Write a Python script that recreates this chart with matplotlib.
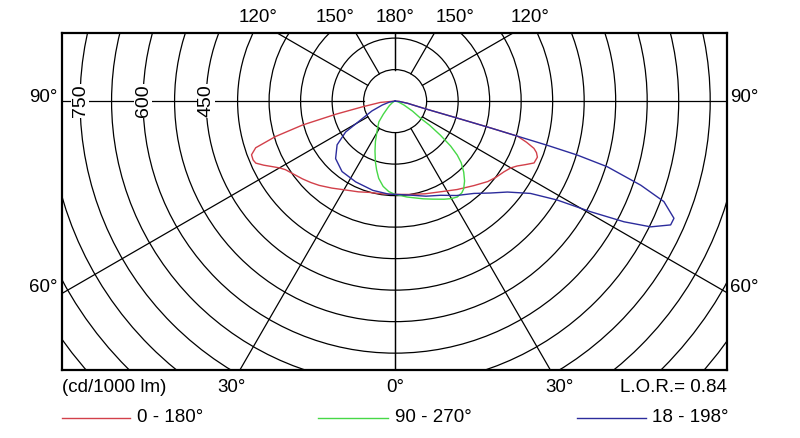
import numpy as np
import matplotlib
matplotlib.use("Agg")
import matplotlib.pyplot as plt
from matplotlib.patches import Circle
from matplotlib.lines import Line2D

plt.rcParams['font.family'] = ['Liberation Sans', 'DejaVu Sans']

# luminous intensity (cd/1000 lm) vs gamma angle, each plane split in a left and right half
red_left_g = [90, 85, 80, 77.5, 75.5, 73.5, 71.5, 69.5, 67.5, 66, 64, 62, 60, 58, 54, 50, 46, 42, 36, 29, 22, 16, 8, 0]
red_left_r = [0, 35, 80, 145, 228, 297, 350, 365, 366, 363, 348, 332, 318, 308, 297, 288, 279, 270, 256, 242, 233, 226, 223, 222]
red_right_g = [0, 9, 18, 27, 35, 43, 49, 53, 57, 60, 62, 64, 66, 68.5, 70, 71.2, 72.6, 74.0, 74.3, 74.7, 75.8, 80, 85, 90]
red_right_r = [222, 225, 232, 242, 257, 275, 292, 301, 309, 318, 329, 345, 362, 364, 358, 349, 328, 303, 236, 154, 71, 30, 10, 0]

green_left_g = [90, 70, 60, 52, 47, 42, 38, 32, 26, 22, 18, 15, 12, 8, 4, 0]
green_left_r = [0, 3, 8, 17, 25, 42, 63, 80, 107, 128, 152, 170, 188, 205, 216, 222]
green_right_g = [0, 7, 16, 21, 26.5, 30, 33, 36, 38, 41, 44, 47, 49, 51, 53, 55, 56, 60, 66, 75, 90]
green_right_r = [222, 230, 242, 250, 261, 268, 272, 270, 265, 252, 235, 215, 196, 170, 135, 100, 73, 48, 23, 8, 0]

blue_left_g = [90, 80, 73, 67, 62, 58, 53, 46, 37, 26, 14, 4, 0]
blue_left_r = [0, 14, 32, 60, 88, 139, 173, 197, 210, 214, 219, 222, 222]
blue_right_g = [0, 9.4, 18, 25.8, 33, 40.5, 46, 51, 55.7, 58.6, 60.5, 62.2, 63.8, 65.8, 67.2, 69.5, 71.1, 72.8,
                73.5, 73.8, 74.0, 74.3, 74.7, 75.8, 80, 85, 90]
blue_right_r = [222, 227, 238, 249, 268, 289, 315, 344, 390, 452, 535, 616, 678, 719, 720, 683, 618, 529,
                452, 378, 303, 236, 154, 71, 30, 10, 0]

series = [
    ("0 - 180°", "#d2404a", red_left_g, red_left_r, red_right_g, red_right_r),
    ("90 - 270°", "#46d846", green_left_g, green_left_r, green_right_g, green_right_r),
    ("18 - 198°", "#2c2c9c", blue_left_g, blue_left_r, blue_right_g, blue_right_r),
]

rings = np.arange(75, 1126, 75)
ring_labels = [450, 600, 750]
spokes = [0, 30, 60, 90, 120, 150, 180]

W, H = 800, 438
fig = plt.figure(figsize=(W / 100, H / 100), dpi=100)


def px(x, y):
    return x / W, 1 - y / H


# frame in pixels: x 62..727, y 33..370 ; centre at (394.5, 101), 0.42 px per cd
ax = fig.add_axes([62 / W, 1 - 370 / H, 665 / W, 337 / H])
ax.set_xlim(-793, 790)
ax.set_ylim(-640, 162)
ax.set_aspect('equal', adjustable='box')
ax.set_xticks([])
ax.set_yticks([])
for s in ax.spines.values():
    s.set_linewidth(1.6)

for r in rings:
    ax.add_patch(Circle((0, 0), r, fill=False, ec='black', lw=0.9))

for a in spokes:
    t = np.radians(a)
    for sgn in (-1, 1):
        ax.plot([sgn * 75 * np.sin(t), sgn * 1300 * np.sin(t)],
                [-75 * np.cos(t), -1300 * np.cos(t)], color='black', lw=0.9)

for v in ring_labels:
    ax.text(-v, 0, str(v), rotation=90, ha='center', va='center', fontsize=14,
            bbox=dict(fc='white', ec='none', pad=0.4))

for name, col, lg, lr, rg, rr in series:
    lg = np.radians(lg)
    rg = np.radians(rg)
    xs = np.concatenate([-np.array(lr) * np.sin(lg), np.array(rr) * np.sin(rg)])
    ys = np.concatenate([-np.array(lr) * np.cos(lg), -np.array(rr) * np.cos(rg)])
    ax.plot(xs, ys, color=col, lw=1.0)

fs = 13.5
for lab, x in [("120°", 258), ("150°", 335), ("180°", 395), ("150°", 455), ("120°", 530)]:
    fig.text(*px(x, 18), lab, ha='center', va='center', fontsize=fs)
fig.text(*px(58, 97), "90°", ha='right', va='center', fontsize=fs)
fig.text(*px(730, 97), "90°", ha='left', va='center', fontsize=fs)
fig.text(*px(58, 287), "60°", ha='right', va='center', fontsize=fs)
fig.text(*px(730, 287), "60°", ha='left', va='center', fontsize=fs)
for lab, x in [("30°", 232), ("0°", 395), ("30°", 560)]:
    fig.text(*px(x, 388), lab, ha='center', va='center', fontsize=fs)
fig.text(*px(62, 388), "(cd/1000 lm)", ha='left', va='center', fontsize=fs)
fig.text(*px(727, 388), "L.O.R.= 0.84", ha='right', va='center', fontsize=fs)

legend_pos = [(62, 130, 137), (318, 388, 395), (577, 646, 652)]
for (name, col, *_), (x0, x1, tx) in zip(series, legend_pos):
    fig.add_artist(Line2D([x0 / W, x1 / W], [1 - 418 / H] * 2, color=col, lw=1.0, transform=fig.transFigure))
    fig.text(*px(tx, 417), name, ha='left', va='center', fontsize=fs)

fig.savefig("out.png", dpi=100)
